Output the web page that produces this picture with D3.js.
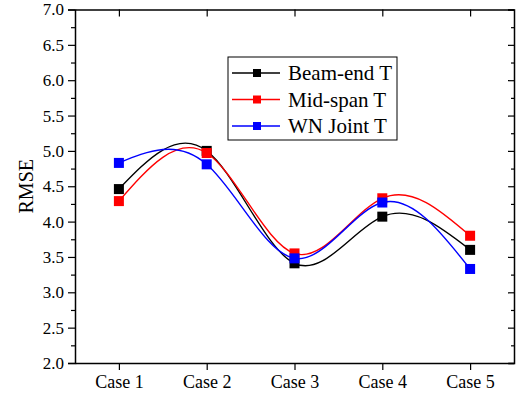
<!DOCTYPE html>
<html>
<head>
<meta charset="utf-8">
<script src="https://cdn.jsdelivr.net/npm/d3@7"></script>
<style>
  body { margin: 0; background: #fff; }
  text { font-family: "Liberation Serif", "Times New Roman", serif; fill: #000; }
</style>
</head>
<body>
<div id="chart"></div>
<script>
// Chart data
const cases = ["Case 1", "Case 2", "Case 3", "Case 4", "Case 5"];
const beamEnd = [4.46, 5.00, 3.41, 4.07, 3.60];
const midSpan = [4.29, 4.97, 3.55, 4.33, 3.80];
const wnJoint = [4.83, 4.81, 3.48, 4.27, 3.33];
const seriesNames = ["Beam-end T", "Mid-span T", "WN Joint T"];
const seriesColors = ["#000000", "#ff0000", "#0000ff"];
const yTicks = [2.0, 2.5, 3.0, 3.5, 4.0, 4.5, 5.0, 5.5, 6.0, 6.5, 7.0];
const yMinorTicks = d3.range(2.25, 7, 0.5);

const width = 521;
const height = 398;
const margin = { left: 75, right: 7, top: 9.5, bottom: 35 };
const serif = '"Liberation Serif", "Times New Roman", serif';

const svg = d3.select("#chart")
    .append("svg")
    .attr("width", width)
    .attr("height", height)
    .attr("font-family", serif);

const x = d3.scalePoint()
    .domain(cases)
    .range([margin.left, width - margin.right])
    .padding(0.5);

const y = d3.scaleLinear()
    .domain([2, 7])
    .range([height - margin.bottom, margin.top]);

const plotH = height - margin.bottom - margin.top;

// Axes
function styleAxis(g, size) {
    g.attr("font-family", serif);
    g.select(".domain").attr("stroke-width", 1.5);
    g.selectAll(".tick line").attr("stroke-width", 1.2);
    g.selectAll("text").attr("font-size", size || 17).attr("font-family", serif);
}

// left: major + minor outward
svg.append("g")
    .attr("transform", `translate(${margin.left},0)`)
    .call(d3.axisLeft(y).tickValues(yTicks).tickSize(7).tickPadding(4).tickFormat(d3.format(".1f")))
    .call(g => styleAxis(g, 17));
svg.append("g")
    .attr("transform", `translate(${margin.left},0)`)
    .call(d3.axisLeft(y).tickValues(yMinorTicks).tickSize(4).tickFormat(""))
    .call(g => g.select(".domain").remove())
    .call(g => styleAxis(g));

// right: ticks inward
svg.append("g")
    .attr("transform", `translate(${width - margin.right},0)`)
    .call(d3.axisLeft(y).tickValues(yTicks).tickSize(6).tickFormat(""))
    .call(g => styleAxis(g));
svg.append("g")
    .attr("transform", `translate(${width - margin.right},0)`)
    .call(d3.axisLeft(y).tickValues(yMinorTicks).tickSize(3).tickFormat(""))
    .call(g => g.select(".domain").remove())
    .call(g => styleAxis(g));

// bottom
svg.append("g")
    .attr("transform", `translate(0,${height - margin.bottom})`)
    .call(d3.axisBottom(x).tickSize(7).tickPadding(5).tickSizeOuter(0))
    .call(g => styleAxis(g, 18));

// top: ticks inward
svg.append("g")
    .attr("transform", `translate(0,${margin.top})`)
    .call(d3.axisBottom(x).tickSize(7).tickFormat("").tickSizeOuter(0))
    .call(g => styleAxis(g));

// y label
svg.append("text")
    .attr("transform", `translate(33,${margin.top + plotH / 2}) rotate(-90)`)
    .attr("text-anchor", "middle")
    .attr("font-size", 20)
    .text("RMSE");

// Series
const series = [beamEnd, midSpan, wnJoint];
const line = d3.line()
    .x((d, i) => x(cases[i]))
    .y(d => y(d))
    .curve(d3.curveNatural);

const ms = 10;
series.forEach((vals, s) => {
    svg.append("path")
        .datum(vals)
        .attr("d", line)
        .attr("fill", "none")
        .attr("stroke", seriesColors[s])
        .attr("stroke-width", 1.4);
    svg.selectAll(null)
        .data(vals)
        .enter().append("rect")
        .attr("x", (d, i) => x(cases[i]) - ms / 2)
        .attr("y", d => y(d) - ms / 2)
        .attr("width", ms)
        .attr("height", ms)
        .attr("fill", seriesColors[s]);
});

// Legend
const legend = svg.append("g").attr("transform", "translate(228,57)");
legend.append("rect")
    .attr("width", 169)
    .attr("height", 83)
    .attr("fill", "#fff")
    .attr("stroke", "#000")
    .attr("stroke-width", 1);
seriesNames.forEach((name, i) => {
    const ly = 16 + i * 26.5;
    legend.append("line")
        .attr("x1", 4).attr("x2", 52)
        .attr("y1", ly).attr("y2", ly)
        .attr("stroke", seriesColors[i])
        .attr("stroke-width", 1.5);
    legend.append("rect")
        .attr("x", 29 - 4).attr("y", ly - 4)
        .attr("width", 8).attr("height", 8)
        .attr("fill", seriesColors[i]);
    legend.append("text")
        .attr("x", 60)
        .attr("y", ly)
        .attr("dy", "0.35em")
        .attr("font-size", 21)
        .text(name);
});
</script>
</body>
</html>
